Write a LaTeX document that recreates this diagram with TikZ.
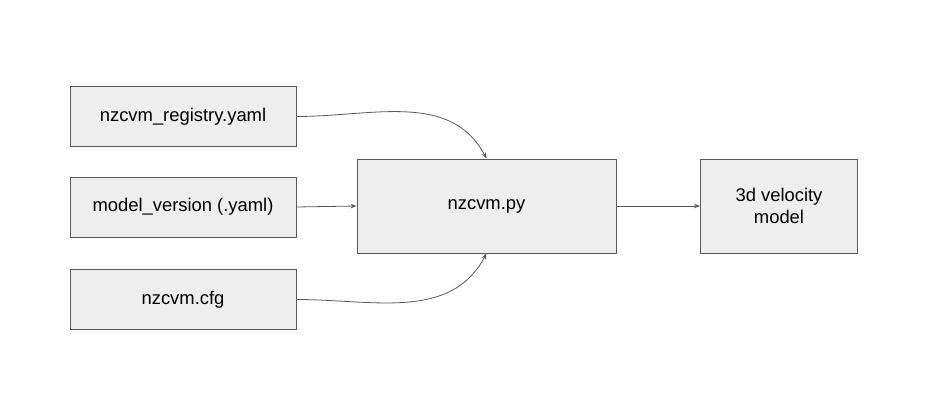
\documentclass[tikz,border=0pt]{standalone}
\usepackage{fontspec}
\setmainfont{Liberation Sans}
\usetikzlibrary{arrows.meta}

\definecolor{boxfill}{HTML}{EEEEEE}
\definecolor{boxline}{HTML}{595959}

\tikzset{
	filebox/.style={draw=boxline, fill=boxfill, line width=1pt, minimum width=226pt, minimum height=60pt, inner sep=0pt, font=\fontsize{18.4}{22}\selectfont},
	progbox/.style={draw=boxline, fill=boxfill, line width=1pt, minimum height=94pt, inner sep=0pt, align=center, font=\fontsize{18.4}{22}\selectfont},
	flow/.style={draw=boxline, line width=0.8pt, -{Stealth[length=6pt,width=4.5pt]}}
}

\begin{document}
\begin{tikzpicture}[x=1pt, y=-1pt]
	\useasboundingbox (0,0) rectangle (928,409);

	% input files
	\node [filebox] (registry) at (183,116.5) {nzcvm\_registry.yaml};
	\node [filebox] (version) at (183,207) {model\_version (.yaml)};
	\node [filebox] (cfg) at (183,299.5) {nzcvm.cfg};

	% program and output
	\node [progbox, minimum width=259pt] (py) at (486.5,206) {nzcvm.py};
	\node [progbox, minimum width=157pt] (model) at (779,206) {3d velocity\\model};

	\draw [flow] (registry.east) to[out=0, in=118] (py.north);
	\draw [flow] (version.east) -- (py.west);
	\draw [flow] (cfg.east) to[out=0, in=-118] (py.south);
	\draw [flow] (py.east) -- (model.west);
\end{tikzpicture}
\end{document}
